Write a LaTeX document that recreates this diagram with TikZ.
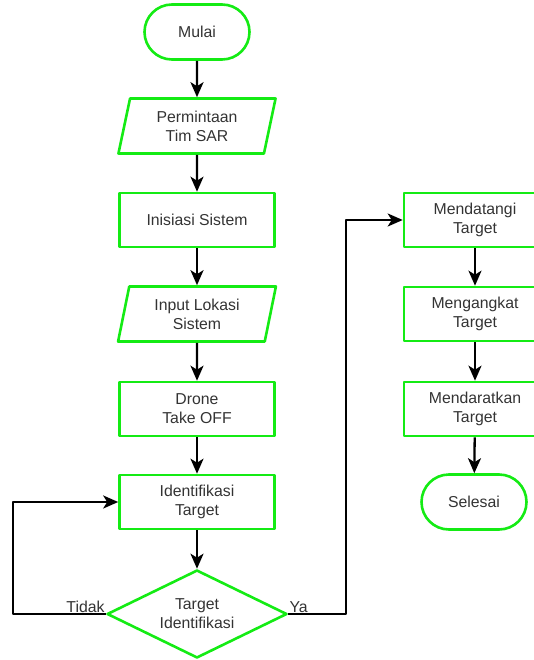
\documentclass[tikz,border=0pt]{standalone}
\usepackage{fontspec}
\setmainfont{Liberation Sans}
\usetikzlibrary{shapes.geometric,shapes.misc,arrows.meta}
\definecolor{hijau}{RGB}{20,235,20}

\begin{document}
\begin{tikzpicture}[x=1pt,y=-1pt,>={Stealth[length=15pt,width=13pt,inset=4pt]},line join=round,
	font=\fontsize{15.8}{19}\selectfont,
	bentuk/.style={draw=hijau,line width=2.6pt,text=black!80,align=center,inner sep=2pt},
	terminal/.style={bentuk,rounded rectangle,minimum width=109pt,minimum height=55pt},
	proses/.style={bentuk,rectangle,minimum width=155pt,minimum height=54pt},
	masukan/.style={bentuk,trapezium,trapezium left angle=78,trapezium right angle=102,trapezium stretches=true,minimum width=158pt,minimum height=55pt},
	keputusan/.style={bentuk,diamond,aspect=2.05,minimum width=180pt,minimum height=88pt,inner sep=0pt},
	panah/.style={->,line width=2.3pt,black}]
	\useasboundingbox (0,0) rectangle (534,660);
	% kolom kiri
	\node[terminal] (mulai) at (197,32) {Mulai};
	\node[masukan] (minta) at (197,126) {Permintaan\\Tim SAR};
	\node[proses] (inisiasi) at (197,220) {Inisiasi Sistem};
	\node[masukan] (lokasi) at (197,314) {Input Lokasi\\Sistem};
	\node[proses] (takeoff) at (197,409) {Drone\\Take OFF};
	\node[proses] (identif) at (197,502) {Identifikasi\\Target};
	\node[keputusan] (cek) at (197,614) {Target\\Identifikasi};
	% kolom kanan
	\node[proses,minimum width=142pt] (datang) at (475,220) {Mendatangi\\Target};
	\node[proses,minimum width=142pt] (angkat) at (475,314) {Mengangkat\\Target};
	\node[proses,minimum width=142pt] (darat) at (475,409) {Mendaratkan\\Target};
	\node[terminal] (selesai) at (474,502) {Selesai};
	\coordinate (kiri) at (13,614);
	\coordinate (kanan) at (346,614);
	\draw[panah] (mulai)--(minta);
	\draw[panah] (minta)--(inisiasi);
	\draw[panah] (inisiasi)--(lokasi);
	\draw[panah] (lokasi)--(takeoff);
	\draw[panah] (takeoff)--(identif);
	\draw[panah] (identif)--(cek);
	\draw[panah] (cek.west)--(kiri)|-(identif.west);
	\draw[panah] (cek.east)--(kanan)|-(datang.west);
	\draw[panah] (datang)--(angkat);
	\draw[panah] (angkat)--(darat);
	\draw[panah] (darat)--(selesai);
	\node[anchor=south east,inner sep=1pt,text=black!80] (tidak) at (cek.west) {Tidak};
	\node[anchor=south west,inner sep=1pt,text=black!80] (ya) at (cek.east) {Ya};
\end{tikzpicture}
\end{document}
